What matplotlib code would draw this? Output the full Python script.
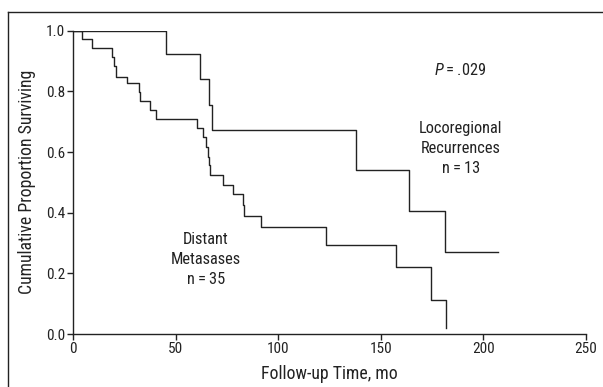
import matplotlib
matplotlib.use("Agg")
import matplotlib.pyplot as plt
from matplotlib.lines import Line2D

FONT = 'Roboto Condensed'
plt.rcParams['font.family'] = [FONT, 'DejaVu Sans']
plt.rcParams['mathtext.fontset'] = 'custom'
plt.rcParams['mathtext.it'] = FONT + ':italic'
plt.rcParams['mathtext.rm'] = FONT

# Locoregional recurrences (n = 13)
loco_times = [0, 45.2, 62.0, 66.2, 67.5, 138.0, 163.8, 181.3, 207.0]
loco_surv = [1.0, 0.923, 0.840, 0.755, 0.674, 0.540, 0.406, 0.271, 0.271]

# Distant metastases (n = 35)
dist_times = [0, 4.1, 9.3, 18.9, 19.9, 20.6, 26.3, 31.9, 32.5, 37.3, 40.3,
              60.3, 63.3, 64.5, 65.8, 66.4, 66.9, 73.2, 78.0, 82.6, 83.3,
              91.6, 123.4, 157.3, 174.6, 181.6]
dist_surv = [1.0, 0.971, 0.943, 0.914, 0.884, 0.847, 0.828, 0.799, 0.769,
             0.738, 0.708, 0.678, 0.648, 0.618, 0.585, 0.556, 0.524, 0.491,
             0.461, 0.425, 0.390, 0.352, 0.293, 0.221, 0.113, 0.019]

x_ticks = [0, 50, 100, 150, 200, 250]
y_ticks = [0.0, 0.2, 0.4, 0.6, 0.8, 1.0]

W, H = 603, 387
fig = plt.figure(figsize=(W / 100, H / 100), dpi=100)
ax = fig.add_axes([73.3 / W, 1 - 334 / H, (586 - 73.3) / W, (334 - 30.7) / H])

col = '#222222'
ax.step(loco_times, loco_surv, where='post', color=col, lw=1.0)
ax.step(dist_times, dist_surv, where='post', color=col, lw=1.0)

ax.set_xlim(0, 250)
ax.set_ylim(0, 1.0)
ax.set_xticks(x_ticks)
ax.set_xticklabels([str(t) for t in x_ticks])
ax.set_yticks(y_ticks)
ax.set_yticklabels([f"{t:.1f}" for t in y_ticks])
for s in ['top', 'right']:
    ax.spines[s].set_visible(False)
for s in ['left', 'bottom']:
    ax.spines[s].set_color(col)
    ax.spines[s].set_linewidth(1.0)
ax.tick_params(direction='out', length=4, width=1.0, color=col,
               labelsize=11, labelcolor=col, pad=2)

ax.set_xlabel('Follow-up Time, mo', fontsize=12.8, color=col, labelpad=6)
ax.set_ylabel('Cumulative Proportion Surviving', fontsize=12.8, color=col, labelpad=7)

ts = '\u2009'
ax.text(188.6, 0.870, r'$\mathit{P}$' + ts + '=' + ts + '.029', fontsize=11.8,
        color=col, ha='center', va='center')
ax.text(188.9, 0.612, 'Locoregional\nRecurrences\nn' + ts + '=' + ts + '13',
        fontsize=11.8, color=col, ha='center', va='center', linespacing=1.4)
ax.text(64.6, 0.246, 'Distant\nMetasases\nn' + ts + '=' + ts + '35',
        fontsize=11.8, color=col, ha='center', va='center', linespacing=1.4)

# outer frame (left and top edges visible)
fig.add_artist(Line2D([8 / W, 8 / W], [0, 1 - 12 / H], transform=fig.transFigure,
                      color=col, lw=1.0))
fig.add_artist(Line2D([8 / W, 1], [1 - 12 / H, 1 - 12 / H], transform=fig.transFigure,
                      color=col, lw=1.0))

fig.savefig('out.png', dpi=100)
